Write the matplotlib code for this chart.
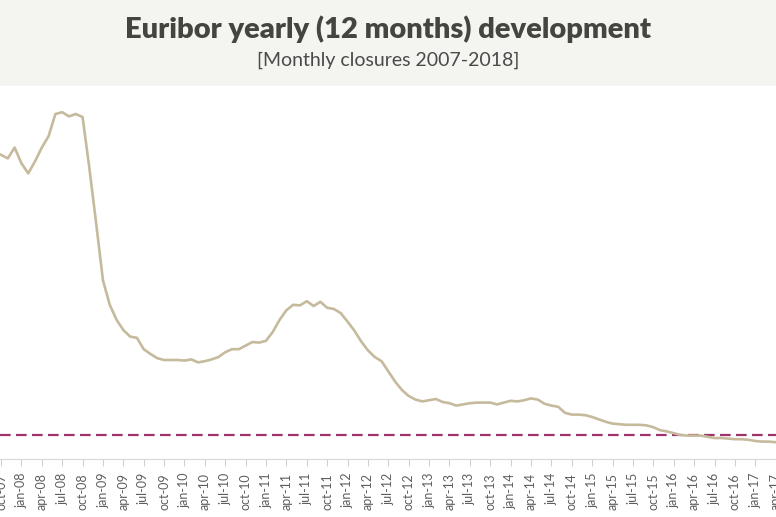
import numpy as np
import matplotlib
matplotlib.use('Agg')
import matplotlib.pyplot as plt
from matplotlib.patches import Rectangle

plt.rcParams['font.family'] = ['Lato', 'DejaVu Sans']

# month labels, oct-07 .. apr-17
months = ['jan', 'feb', 'mar', 'apr', 'may', 'jun',
          'jul', 'aug', 'sep', 'oct', 'nov', 'dec']
labels = []
for k in range(115):
    m = (9 + k) % 12
    y = 7 + (9 + k) // 12
    labels.append('{}-{:02d}'.format(months[m], y))

# Euribor 12m, monthly closures (%)
euribor = [
    4.67, 4.61, 4.79, 4.53, 4.36, 4.56, 4.79, 4.98, 5.35, 5.38,  # oct-07..jul-08
    5.31, 5.35, 5.30, 4.45, 3.53, 2.58, 2.17, 1.92, 1.75, 1.64,  # aug-08..may-09
    1.62, 1.43, 1.35, 1.28, 1.25, 1.25, 1.25, 1.24, 1.26, 1.21,  # jun-09..mar-10
    1.23, 1.26, 1.30, 1.38, 1.43, 1.43, 1.49, 1.55, 1.54, 1.57,  # apr-10..jan-11
    1.72, 1.92, 2.08, 2.17, 2.16, 2.23, 2.15, 2.22, 2.12, 2.10,  # feb-11..nov-11
    2.03, 1.89, 1.74, 1.56, 1.41, 1.30, 1.23, 1.06, 0.89, 0.75,  # dec-11..sep-12
    0.65, 0.59, 0.56, 0.58, 0.60, 0.55, 0.53, 0.49, 0.51, 0.53,  # oct-12..jul-13
    0.54, 0.54, 0.54, 0.51, 0.54, 0.57, 0.56, 0.58, 0.61, 0.59,  # aug-13..may-14
    0.52, 0.49, 0.47, 0.37, 0.34, 0.34, 0.33, 0.30, 0.26, 0.22,  # jun-14..mar-15
    0.19, 0.18, 0.17, 0.17, 0.17, 0.16, 0.13, 0.08, 0.06, 0.03,  # apr-15..jan-16
    0.00, -0.01, -0.01, -0.01, -0.03, -0.05, -0.05, -0.06, -0.07, -0.07,  # feb-16..nov-16
    -0.08, -0.10, -0.11, -0.11, -0.12,  # dec-16..apr-17
]
zero_level = 0.0

x = np.arange(len(euribor))

fig = plt.figure(figsize=(7.76, 5.17), dpi=100)
fig.patch.set_facecolor('white')

# title band
fig.patches.append(Rectangle((0, 1 - 86 / 517), 1, 86 / 517,
                             transform=fig.transFigure,
                             facecolor='#f4f4f0', edgecolor='none', zorder=0))
fig.text(0.5, 1 - 29 / 517, 'Euribor yearly (12 months) development',
         ha='center', va='center', fontsize=21, fontweight='heavy',
         color='#45453f')
fig.text(0.5, 1 - 60 / 517, '[Monthly closures 2007-2018]',
         ha='center', va='center', fontsize=14, fontweight='normal',
         color='#4a4a4a')

ax = fig.add_axes([0, 58 / 517, 1, 372 / 517])
ax.set_facecolor('none')

ax.plot(x, euribor, color='#c6ba9d', lw=1.9, solid_joinstyle='round', zorder=3)
ax.axhline(zero_level, color='#9c3469', lw=1.6, ls=(0, (4.8, 2.4)), zorder=2)

ax.set_xlim(-0.15, 114.05)
ax.set_ylim(-0.40, 5.80)

ax.set_xticks(x[::3])
ax.set_xticklabels(labels[::3], rotation=90, fontsize=9, color='#5e5e5e')
ax.tick_params(axis='x', length=5, width=0.8, color='#d0d0d0', pad=5)
ax.set_yticks([])

for side in ['top', 'left', 'right']:
    ax.spines[side].set_visible(False)
ax.spines['bottom'].set_color('#d8d8d8')
ax.spines['bottom'].set_linewidth(0.8)

fig.savefig('out.png', dpi=100)
